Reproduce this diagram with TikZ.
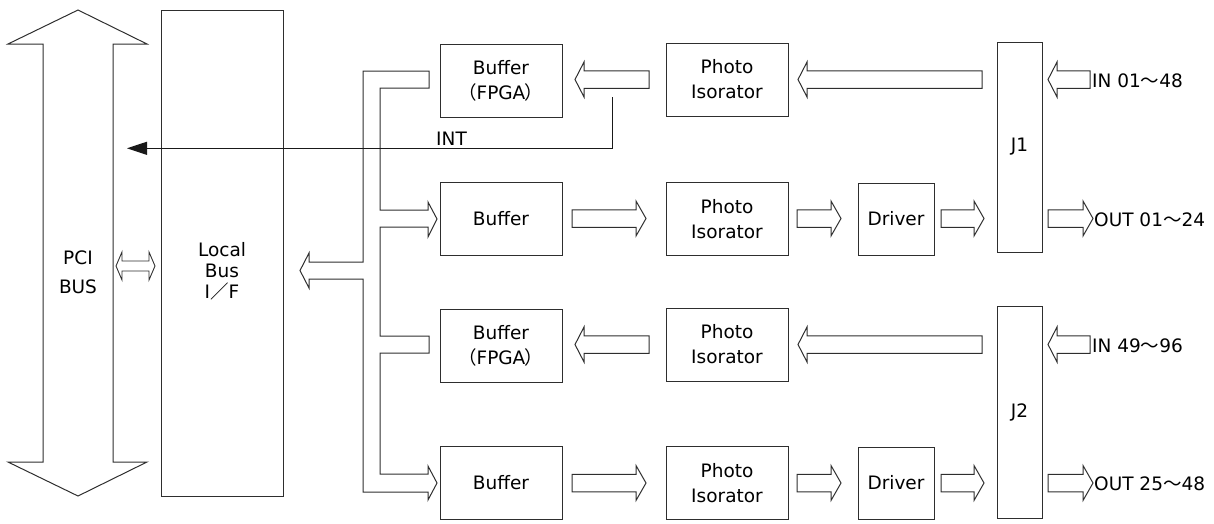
\documentclass[tikz,border=0pt]{standalone}
\usepackage{fontspec}
\setmainfont{DejaVu Sans}
\newfontfamily\jpfont[RawFeature=+palt]{Noto Sans CJK JP}
\newfontfamily\jpfull{Noto Sans CJK JP}
\usetikzlibrary{arrows.meta}
\tikzset{
  ln/.style={draw=black!82, line width=1pt, line join=miter},
  blk/.style={ln, minimum width=122pt, minimum height=73pt, inner sep=0pt, align=center,
              font=\fontsize{18.5}{25}\selectfont},
  txt/.style={inner sep=0pt, align=center, font=\fontsize{18.5}{25}\selectfont},
}
% hollow arrow pointing right: tail x, tip x, centre y
\newcommand\harR[3]{\draw[ln] (#1,#3-8.75) -- (#2-10,#3-8.75) -- (#2-10,#3-17.5) -- (#2,#3) -- (#2-10,#3+17.5) -- (#2-10,#3+8.75) -- (#1,#3+8.75) -- cycle;}
% hollow arrow pointing left: tail x, tip x, centre y
\newcommand\harL[3]{\draw[ln] (#1,#3-8.75) -- (#2+9,#3-8.75) -- (#2+9,#3-17.5) -- (#2,#3) -- (#2+9,#3+17.5) -- (#2+9,#3+8.75) -- (#1,#3+8.75) -- cycle;}
\begin{document}
\begin{tikzpicture}[x=1pt,y=-1pt]
\useasboundingbox (0,0) rectangle (1214,523);

% PCI bus
\draw[ln] (78,10) -- (147,44) -- (113,44) -- (113,462) -- (147,462) -- (78,496)
  -- (8,462) -- (43,462) -- (43,44) -- (8,44) -- cycle;
\node[txt, font=\fontsize{18.5}{29}\selectfont] (pci) at (78,272) {PCI\\BUS};

% small double arrow
\draw[ln, line width=0.9pt] (116,266) -- (122,252) -- (122,261) -- (149,261) -- (149,252) -- (155,266)
  -- (149,280) -- (149,271) -- (122,271) -- (122,280) -- cycle;

% Local bus box
\node[ln, minimum width=122pt, minimum height=486pt, inner sep=0pt] (lb) at (222,253) {};
\node[txt, font=\fontsize{18.5}{21}\selectfont] (lbt) at (222,271) {Local\\Bus\\I{\jpfont ／}F};

% blocks
\node[blk] (bf1) at (501,80.5) {Buffer\\{\jpfont （}FPGA{\jpfont ）}};
\node[blk] (pi1) at (727,79.5) {Photo\\Isorator};
\node[blk] (bf2) at (501,219) {Buffer};
\node[blk] (pi2) at (727,219) {Photo\\Isorator};
\node[blk, minimum width=76pt, minimum height=72pt] (dr2) at (896,219) {Driver};
\node[blk] (bf3) at (501,345.5) {Buffer\\{\jpfont （}FPGA{\jpfont ）}};
\node[blk] (pi3) at (727,344.5) {Photo\\Isorator};
\node[blk] (bf4) at (501,483) {Buffer};
\node[blk] (pi4) at (727,483) {Photo\\Isorator};
\node[blk, minimum width=76pt, minimum height=72pt] (dr4) at (896,483) {Driver};
\node[blk, minimum width=45pt, minimum height=210pt] (j1) at (1019.5,147) {J1};
\node[blk, minimum width=45pt, minimum height=212pt] (j2) at (1019.5,412) {J2};

% internal bus tree
\draw[ln] (363,71) -- (429,71) -- (429,88) -- (380,88) -- (380,210) -- (428,210) -- (428,202)
  -- (437,219) -- (428,237) -- (428,227) -- (380,227) -- (380,336) -- (429,336) -- (429,353)
  -- (380,353) -- (380,474) -- (428,474) -- (428,466) -- (437,483) -- (428,500) -- (428,492)
  -- (363,492) -- (363,279) -- (309,279) -- (309,288) -- (300,270.5) -- (309,253) -- (309,262)
  -- (363,262) -- cycle;

% row arrows
\harL{649}{575}{79.5}
\harL{982}{798}{79.5}
\harL{1090}{1048}{79.5}
\harR{572}{646}{218.5}
\harR{797}{841}{218.5}
\harR{941}{984}{218.5}
\harR{1048}{1093}{218.5}
\harL{649}{575}{344.5}
\harL{982}{798}{344.5}
\harL{1090}{1048}{344.5}
\harR{572}{646}{483}
\harR{797}{841}{483}
\harR{941}{984}{483}
\harR{1048}{1093}{483}

% INT line
\coordinate (ints) at (612,97);
\coordinate (intc) at (612,148.3);
\coordinate (inte) at (127,148.3);
\draw[draw=black!90, line width=1pt, -{Triangle[length=20pt,width=13pt]}] (ints) -- (intc) -- (inte);
\node[txt, anchor=west] (int) at (436,139) {INT};

% IO labels
\node[txt, anchor=west] (in1) at (1092,81) {IN 01{\jpfull ～}48};
\node[txt, anchor=west] (out1) at (1094,220) {OUT 01{\jpfull ～}24};
\node[txt, anchor=west] (in2) at (1092,346) {IN 49{\jpfull ～}96};
\node[txt, anchor=west] (out2) at (1094,484) {OUT 25{\jpfull ～}48};
\end{tikzpicture}
\end{document}
